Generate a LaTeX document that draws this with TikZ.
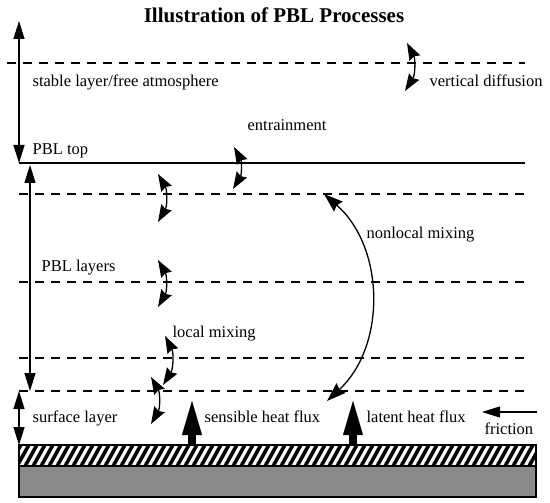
\documentclass[tikz,border=0pt]{standalone}
\usepackage{fontspec}
\setmainfont{Liberation Serif}
\usetikzlibrary{arrows.meta,positioning}
\definecolor{ground}{HTML}{8A8A8A}

\begin{document}
\begin{tikzpicture}[x=1pt,y=-1pt,line width=1.3pt,>={Triangle[length=18pt,width=11pt]},
  label node/.style={font=\fontsize{16.5}{18}\selectfont,inner sep=0pt,anchor=base west},
  layer line/.style={dash pattern=on 9pt off 7pt},
  mix arrow/.style={<->,>={Stealth[length=17pt,width=12pt,inset=2pt]},bend left=30},
  flux arrow/.style={line width=8pt,-{Triangle[length=34pt,width=20pt,line width=0.1pt]}}]

    \useasboundingbox (0,0) rectangle (550,503);

    \node[font=\bfseries\fontsize{21}{24}\selectfont] (title) at (274,15) {Illustration of PBL Processes};

    % labels
    \node[label node] (stable) at (32,87) {stable layer/free atmosphere};
    \node[label node] (vdiff) at (429,87) {vertical diffusion};
    \node[label node] (entrain) at (247,131) {entrainment};
    \node[label node] (pbltop) at (32,154) {PBL top};
    \node[label node] (nonlocal) at (366,239) {nonlocal mixing};
    \node[label node] (pbllayers) at (41,271) {PBL layers};
    \node[label node] (localmix) at (172,337) {local mixing};
    \node[label node] (sfclayer) at (32,422) {surface layer};
    \node[label node] (sensible) at (204,422) {sensible heat flux};
    \node[label node] (latent) at (366,422) {latent heat flux};
    \node[label node] (friction) at (484,434) {friction};

    % layers
    \coordinate (free w) at (7,63);
    \coordinate (free e) at (525,63);
    \coordinate (pbl w) at (19,163);
    \coordinate (pbl e) at (525,163);
    \draw[layer line] (free w) -- (free e);
    \draw (pbl w) -- (pbl e);
    \foreach \y/\n in {194/l1,282/l2,358/l3,391/l4}{
        \coordinate (\n w) at (19,\y);
        \coordinate (\n e) at (525,\y);
        \draw[layer line] (\n w) -- (\n e);
    }

    % ground
    \begin{scope}
        \clip (19,445) rectangle (536,466);
        \foreach \s in {0,8,...,536}
            \draw[line width=3.6pt] (\s,468) -- (\s+14,443);
    \end{scope}
    \draw (19,445) rectangle (536,466);
    \draw[fill=ground] (19,466) rectangle (536,497);

    % depth arrows
    \coordinate (atm top) at (19,21);
    \coordinate (pbl a) at (30,165);
    \coordinate (pbl b) at (30,391);
    \coordinate (sfc a) at (19,391);
    \coordinate (sfc b) at (19,445);
    \draw[<->] (atm top) -- (pbl w);
    \draw[<->] (pbl a) -- (pbl b);
    \draw[<->] (sfc a) -- (sfc b);

    % mixing arrows
    \foreach \n/\xa/\ya/\xb/\yb in {vd/407/43/405/91,en/234/147/233/189,m1/158/174/158/222,
                                     m2/158/260/158/307,m3/165/336/163/385,m4/151/377/151/424}{
        \coordinate (\n a) at (\xa,\ya);
        \coordinate (\n b) at (\xb,\yb);
        \draw[mix arrow] (\n a) to (\n b);
    }
    \coordinate (nl a) at (324,194);
    \coordinate (nl b) at (327,401);
    \draw[mix arrow,bend left=48,>={Stealth[length=19pt,width=13pt,inset=2pt]}] (nl a) to (nl b);

    % fluxes
    \coordinate (sh base) at (192,445);
    \coordinate (sh tip) at (192,401);
    \coordinate (lh base) at (353,445);
    \coordinate (lh tip) at (353,401);
    \draw[flux arrow] (sh base) -- (sh tip);
    \draw[flux arrow] (lh base) -- (lh tip);

    \coordinate (fr a) at (537,412);
    \coordinate (fr b) at (482,412);
    \draw[->] (fr a) -- (fr b);
\end{tikzpicture}
\end{document}
